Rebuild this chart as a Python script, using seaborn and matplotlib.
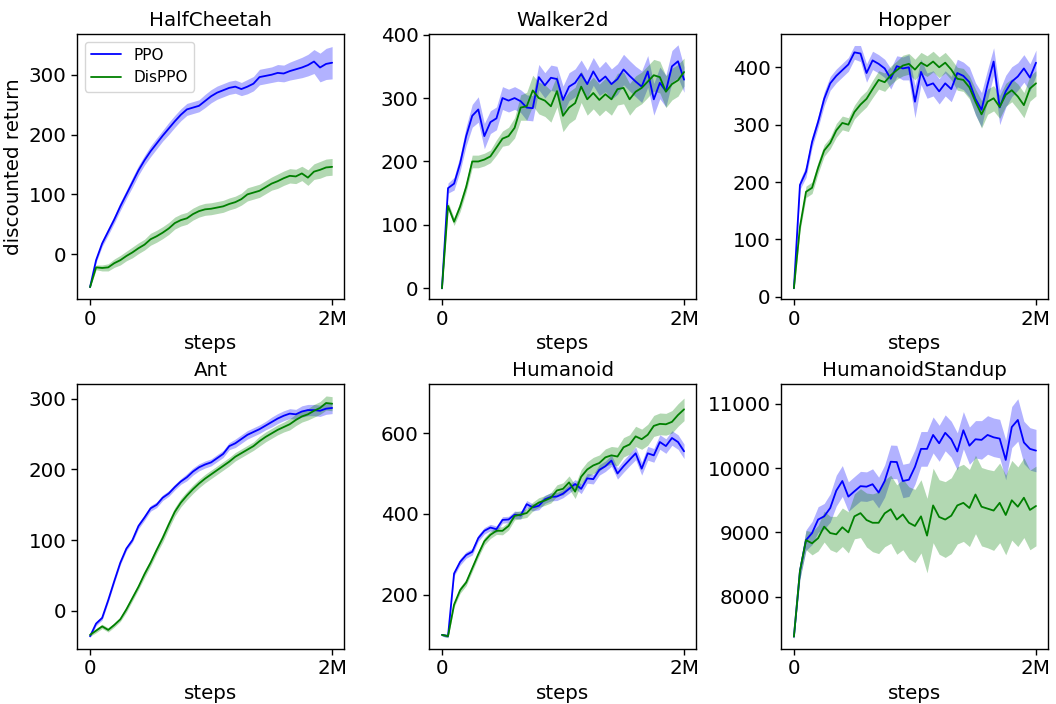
import numpy as np
import pandas as pd
import matplotlib
matplotlib.use("Agg")
import matplotlib.pyplot as plt
import seaborn as sns

# ---------------- data ----------------
steps_m = [i * 0.05 for i in range(41)]  # millions of steps, 0 .. 2M

titles = ["HalfCheetah", "Walker2d", "Hopper", "Ant", "Humanoid", "HumanoidStandup"]
tick_labels_x = ["0", "2M"]

halfcheetah_ppo = [-55, -10, 18, 38, 58, 80, 100, 120, 140, 157, 172, 185, 198, 210, 222, 233, 242, 245, 248, 256,
                   264, 270, 274, 278, 280, 276, 280, 285, 296, 298, 300, 303, 302, 306, 309, 312, 316, 322, 312, 318, 320]
halfcheetah_ppo_err = [2, 4, 5, 6, 6, 7, 7, 8, 8, 8, 9, 9, 9, 10, 10, 10, 10, 10, 10, 11,
                       11, 11, 11, 11, 11, 11, 12, 12, 13, 13, 13, 14, 14, 15, 16, 17, 18, 20, 24, 26, 27]
halfcheetah_dis = [-55, -22, -23, -22, -15, -10, -3, 3, 10, 16, 25, 30, 36, 43, 52, 57, 60, 67, 72, 75,
                   76, 78, 80, 84, 87, 92, 100, 103, 106, 112, 118, 122, 127, 131, 130, 135, 128, 138, 141, 145, 146]
halfcheetah_dis_err = [1, 4, 5, 6, 7, 8, 8, 9, 9, 9, 10, 10, 10, 10, 10, 10, 10, 10, 10, 10,
                       10, 10, 10, 10, 10, 10, 11, 11, 11, 11, 11, 12, 12, 12, 12, 12, 13, 13, 14, 14, 14]

walker_ppo = [0, 158, 165, 197, 240, 272, 282, 240, 262, 268, 300, 296, 300, 295, 285, 284, 333, 320, 332, 330,
              297, 318, 324, 338, 322, 342, 326, 334, 322, 330, 345, 335, 326, 318, 342, 298, 324, 311, 350, 358, 329]
walker_ppo_err = [2, 8, 10, 12, 15, 18, 20, 20, 18, 18, 18, 18, 18, 18, 20, 20, 20, 20, 20, 20,
                  22, 22, 22, 22, 22, 22, 22, 24, 24, 24, 24, 24, 24, 25, 25, 25, 25, 25, 25, 26, 20]
walker_dis = [0, 130, 105, 129, 160, 200, 200, 203, 208, 222, 236, 240, 253, 285, 287, 312, 300, 296, 287, 311,
              272, 285, 292, 318, 298, 308, 297, 306, 298, 314, 316, 298, 310, 316, 326, 336, 333, 310, 322, 328, 341]
walker_dis_err = [2, 6, 6, 8, 8, 10, 10, 10, 10, 12, 12, 14, 16, 20, 22, 24, 25, 25, 25, 25,
                  25, 25, 25, 25, 25, 25, 25, 25, 25, 25, 25, 25, 25, 25, 25, 25, 25, 25, 25, 25, 22]

hopper_ppo = [15, 195, 218, 270, 305, 345, 372, 385, 395, 405, 426, 424, 390, 412, 406, 398, 380, 402, 398, 400,
              340, 392, 368, 372, 358, 372, 362, 390, 385, 374, 345, 326, 370, 410, 330, 358, 375, 384, 398, 382, 408]
hopper_ppo_err = [3, 8, 10, 10, 10, 12, 12, 12, 12, 12, 12, 14, 16, 16, 16, 16, 18, 18, 20, 22,
                  28, 22, 22, 22, 22, 22, 22, 24, 24, 26, 28, 30, 26, 24, 30, 28, 26, 24, 24, 24, 22]
hopper_dis = [15, 122, 183, 190, 225, 255, 268, 290, 303, 300, 322, 335, 345, 362, 378, 374, 386, 395, 403, 406,
              396, 408, 402, 410, 400, 408, 396, 380, 378, 365, 340, 318, 340, 346, 331, 352, 360, 349, 334, 363, 372]
hopper_dis_err = [3, 8, 10, 10, 10, 10, 10, 12, 12, 12, 12, 14, 14, 15, 16, 16, 16, 16, 18, 18,
                  18, 18, 18, 18, 18, 18, 18, 20, 20, 20, 22, 24, 22, 22, 20, 20, 20, 22, 22, 22, 22]

ant_ppo = [-36, -18, -10, 15, 42, 68, 88, 100, 120, 132, 145, 150, 160, 166, 175, 183, 189, 197, 203, 207,
           210, 216, 222, 233, 237, 243, 249, 253, 257, 262, 267, 272, 276, 279, 278, 282, 284, 284, 283, 286, 287]
ant_ppo_err = [2, 3, 3, 3, 3, 3, 3, 3, 4, 4, 4, 4, 4, 4, 4, 4, 5, 5, 5, 5,
               5, 5, 5, 5, 6, 6, 6, 6, 6, 6, 7, 7, 7, 7, 7, 8, 8, 8, 8, 8, 8]
ant_dis = [-34, -28, -22, -27, -20, -12, 2, 18, 34, 52, 68, 86, 103, 122, 140, 153, 163, 172, 180, 187,
           193, 199, 205, 211, 218, 223, 228, 233, 240, 246, 251, 256, 260, 264, 270, 275, 278, 283, 287, 294, 293]
ant_dis_err = [2, 3, 3, 3, 3, 3, 4, 4, 4, 5, 5, 5, 6, 6, 6, 6, 6, 6, 6, 6,
               6, 6, 6, 6, 6, 6, 6, 6, 7, 7, 7, 7, 7, 8, 8, 8, 8, 9, 9, 10, 10]

humanoid_ppo = [100, 97, 252, 281, 298, 306, 340, 358, 366, 362, 385, 386, 398, 396, 424, 416, 420, 436, 442, 443,
                450, 462, 474, 462, 488, 486, 509, 518, 532, 500, 518, 534, 550, 512, 550, 545, 578, 568, 588, 578, 555]
humanoid_ppo_err = [3, 4, 6, 8, 8, 8, 8, 8, 8, 8, 8, 8, 9, 9, 9, 9, 10, 10, 10, 10,
                    10, 11, 11, 12, 12, 12, 13, 13, 14, 14, 15, 15, 16, 16, 17, 17, 18, 18, 18, 18, 18]
humanoid_dis = [100, 97, 175, 211, 230, 265, 300, 332, 348, 358, 358, 370, 395, 398, 402, 418, 428, 433, 440, 458,
                462, 478, 455, 492, 510, 520, 526, 540, 545, 542, 565, 572, 592, 585, 596, 618, 623, 622, 628, 645, 659]
humanoid_dis_err = [3, 4, 6, 8, 8, 8, 8, 9, 9, 9, 10, 10, 10, 10, 11, 11, 12, 12, 13, 14,
                    15, 16, 17, 18, 19, 20, 20, 21, 22, 23, 24, 24, 25, 25, 26, 26, 27, 27, 28, 28, 28]

standup_ppo = [7377, 8400, 8880, 8990, 9200, 9250, 9380, 9650, 9800, 9557, 9640, 9720, 9712, 9750, 9620, 9800,
               10100, 10095, 9800, 9820, 10020, 10300, 10300, 10517, 10387, 10550, 10450, 10260, 10590, 10350,
               10450, 10440, 10517, 10480, 10460, 10128, 10640, 10750, 10400, 10300, 10273]
standup_ppo_err = [40, 120, 160, 180, 200, 200, 220, 240, 240, 230, 230, 230, 230, 240, 240, 250,
                   260, 260, 260, 260, 270, 270, 270, 280, 280, 280, 280, 290, 290, 290,
                   290, 300, 300, 300, 300, 310, 320, 330, 330, 330, 330]
standup_dis = [7377, 8400, 8880, 8830, 8910, 9090, 8990, 8970, 9080, 9000, 9250, 9300, 9193, 9150, 9150, 9297,
               9360, 9200, 9280, 9150, 9100, 9250, 8950, 9420, 9240, 9200, 9260, 9420, 9460, 9380,
               9590, 9400, 9370, 9340, 9460, 9271, 9500, 9400, 9540, 9350, 9411]
standup_dis_err = [40, 120, 150, 180, 200, 240, 260, 280, 300, 320, 350, 380, 420, 450, 480, 520,
                   530, 540, 550, 560, 570, 570, 580, 580, 580, 590, 590, 600, 600, 600,
                   610, 610, 610, 620, 620, 620, 620, 620, 620, 620, 620]

ppo_series = [halfcheetah_ppo, walker_ppo, hopper_ppo, ant_ppo, humanoid_ppo, standup_ppo]
ppo_errs = [halfcheetah_ppo_err, walker_ppo_err, hopper_ppo_err, ant_ppo_err, humanoid_ppo_err, standup_ppo_err]
dis_series = [halfcheetah_dis, walker_dis, hopper_dis, ant_dis, humanoid_dis, standup_dis]
dis_errs = [halfcheetah_dis_err, walker_dis_err, hopper_dis_err, ant_dis_err, humanoid_dis_err, standup_dis_err]

ylims = [(-75, 368), (-17, 401), (-4, 458), (-54, 321), (65, 722), (7185, 11311)]
yticks = [[0, 100, 200, 300], [0, 100, 200, 300, 400], [0, 100, 200, 300, 400],
          [0, 100, 200, 300], [200, 400, 600], [8000, 9000, 10000, 11000]]

# ---------------- style ----------------
sns.set_style("ticks")
plt.rcParams["font.family"] = ["DejaVu Sans"]
plt.rcParams["axes.edgecolor"] = "black"
plt.rcParams["axes.linewidth"] = 1.0
plt.rcParams["text.color"] = "black"
plt.rcParams["axes.labelcolor"] = "black"
plt.rcParams["xtick.color"] = "black"
plt.rcParams["ytick.color"] = "black"

FS = 14.3

fig, axes = plt.subplots(2, 3, figsize=(10.56, 7.04), dpi=100)
fig.subplots_adjust(left=0.073, right=0.9924, top=0.9517, bottom=0.0781, wspace=0.318, hspace=0.32)

x = np.array(steps_m) * 1e6
for i, ax in enumerate(axes.flat):
    ppo = np.array(ppo_series[i], dtype=float)
    pe = np.array(ppo_errs[i], dtype=float)
    dis = np.array(dis_series[i], dtype=float)
    de = np.array(dis_errs[i], dtype=float)
    df = pd.DataFrame({
        "steps": np.concatenate([x, x]),
        "value": np.concatenate([ppo, dis]),
        "algo": ["PPO"] * len(x) + ["DisPPO"] * len(x),
    })
    ax.fill_between(x, ppo - pe, ppo + pe, color="blue", alpha=0.3, linewidth=0)
    ax.fill_between(x, dis - de, dis + de, color="green", alpha=0.3, linewidth=0)
    sns.lineplot(data=df, x="steps", y="value", hue="algo", palette={"PPO": "blue", "DisPPO": "green"},
                 linewidth=1.3, ax=ax, legend=(i == 0))
    ax.set_title(titles[i], fontsize=FS, color="black")
    ax.set_xticks([0, 2e6])
    ax.set_xticklabels(tick_labels_x)
    ax.set_xlim(-0.107e6, 2.099e6)
    ax.set_ylim(*ylims[i])
    ax.set_yticks(yticks[i])
    ax.tick_params(labelsize=FS, direction="out", length=4, width=1, colors="black")
    ax.set_xlabel("steps", fontsize=FS, color="black")
    ax.set_ylabel("discounted return" if i == 0 else "", fontsize=FS, color="black")
    for s in ax.spines.values():
        s.set_visible(True)
        s.set_color("black")
    if i == 0:
        leg = ax.legend(loc="upper left", fontsize=11, frameon=True)
        leg.get_frame().set_edgecolor("#cccccc")
        for t in leg.get_texts():
            t.set_color("black")

fig.savefig("out.png", dpi=100)
